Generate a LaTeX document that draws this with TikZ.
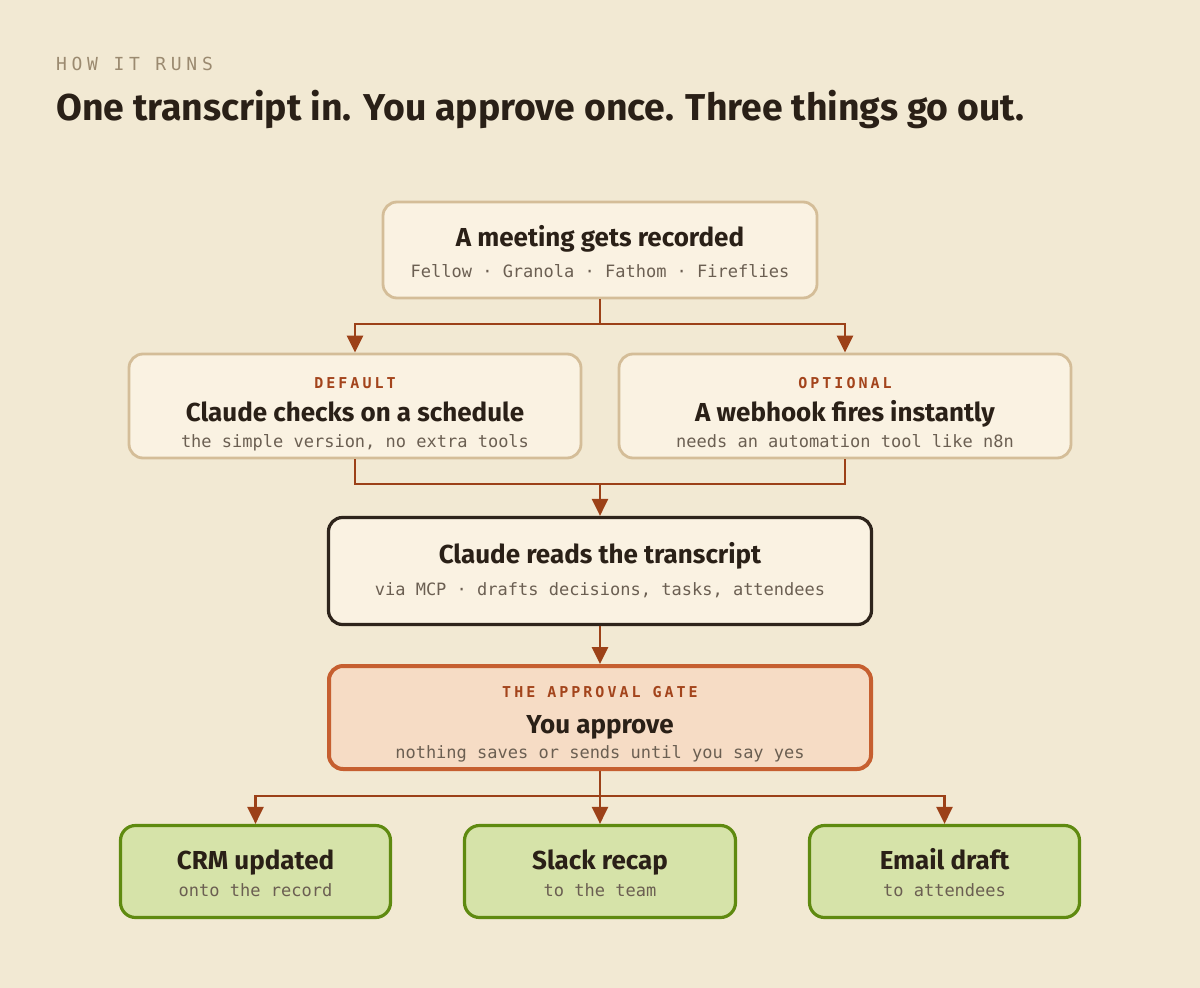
\documentclass[tikz,border=0pt]{standalone}
\usepackage{fontspec}
\setmainfont{Fira Sans}
\newfontfamily\monofont{DejaVu Sans Mono}
\newfontfamily\labelfont[LetterSpace=20]{DejaVu Sans Mono}
\newfontfamily\kickerfont[LetterSpace=26]{DejaVu Sans Mono}
\usetikzlibrary{arrows.meta}
\definecolor{bg}{HTML}{F2E9D3}
\definecolor{boxfill}{HTML}{FAF2E2}
\definecolor{tan}{HTML}{D4BD98}
\definecolor{ink}{HTML}{2A2017}
\definecolor{subink}{HTML}{6B5F52}
\definecolor{labelc}{HTML}{A3441C}
\definecolor{wire}{HTML}{9C4118}
\definecolor{darkb}{HTML}{2E241B}
\definecolor{gatefill}{HTML}{F6DCC5}
\definecolor{gateb}{HTML}{C65F30}
\definecolor{greenfill}{HTML}{D6E3A9}
\definecolor{greenb}{HTML}{5F8A10}
\definecolor{kicker}{HTML}{9B8A70}
\tikzset{
  box/.style={rectangle, rounded corners=14pt, inner sep=0pt},
  tanbox/.style={box, draw=tan, fill=boxfill, line width=2.8pt},
  darkbox/.style={box, draw=darkb, fill=boxfill, line width=3.2pt},
  gatebox/.style={box, draw=gateb, fill=gatefill, line width=4pt},
  greenbox/.style={box, draw=greenb, fill=greenfill, line width=3.2pt, rounded corners=15pt},
  ttl/.style={anchor=base, inner sep=0pt, text=ink, font=\fontsize{26}{30}\selectfont\bfseries},
  sub/.style={anchor=base, inner sep=0pt, text=subink, font=\fontsize{17}{20}\selectfont\monofont},
  lbl/.style={anchor=base, inner sep=0pt, text=labelc, font=\fontsize{15}{18}\selectfont\labelfont\bfseries},
  wireline/.style={draw=wire, line width=2.7pt},
  arr/.style={wireline, -{Triangle[width=16pt,length=17pt]}},
}
\begin{document}
\begin{tikzpicture}[x=1pt,y=-1pt]
\fill[bg] (0,0) rectangle (1200,988);
\useasboundingbox (0,0) rectangle (1200,988);

\node[anchor=base west, inner sep=0pt, text=kicker, font=\fontsize{18}{20}\selectfont\kickerfont] (kick) at (56,70) {HOW IT RUNS};
\node[anchor=base west, inner sep=0pt, text=ink, font=\fontsize{37.4}{42}\selectfont\bfseries] (head) at (56,120) {One transcript in. You approve once. Three things go out.};

% boxes
\node[tanbox, minimum width=434pt, minimum height=96pt] (top) at (600,250) {};
\node[tanbox, minimum width=452pt, minimum height=104pt] (def) at (355,406) {};
\node[tanbox, minimum width=452pt, minimum height=104pt] (opt) at (845,406) {};
\node[darkbox, minimum width=543pt, minimum height=107pt] (claude) at (600,571) {};
\node[gatebox, minimum width=542pt, minimum height=103pt] (gate) at (600,717.5) {};
\node[greenbox, minimum width=270pt, minimum height=92pt] (crm) at (255.5,871.5) {};
\node[greenbox, minimum width=271pt, minimum height=92pt] (slack) at (600,871.5) {};
\node[greenbox, minimum width=270pt, minimum height=92pt] (email) at (944.5,871.5) {};

% texts
\node[ttl] (topT) at (600,246) {A meeting gets recorded};
\node[sub] (topS) at (600,277) {Fellow · Granola · Fathom · Fireflies};

\node[lbl] (defL) at (355,388.5) {DEFAULT};
\node[ttl] (defT) at (355,421) {Claude checks on a schedule};
\node[sub] (defS) at (355,447.5) {the simple version, no extra tools};

\node[lbl] (optL) at (845,388.5) {OPTIONAL};
\node[ttl] (optT) at (845,421) {A webhook fires instantly};
\node[sub] (optS) at (845,447.5) {needs an automation tool like n8n};

\node[ttl] (clT) at (600,563) {Claude reads the transcript};
\node[sub] (clS) at (600,595.5) {via MCP · drafts decisions, tasks, attendees};

\node[lbl] (gateL) at (600,697.5) {THE APPROVAL GATE};
\node[ttl] (gateT) at (600,733) {You approve};
\node[sub] (gateS) at (600,758.5) {nothing saves or sends until you say yes};

\node[ttl] (crmT) at (255.5,869) {CRM updated};
\node[sub] (crmS) at (255.5,896.5) {onto the record};
\node[ttl] (slackT) at (600,869) {Slack recap};
\node[sub] (slackS) at (600,896.5) {to the team};
\node[ttl] (emailT) at (944.5,869) {Email draft};
\node[sub] (emailS) at (944.5,896.5) {to attendees};

% connectors
\coordinate (j1) at (600,324);
\coordinate (j2) at (600,484);
\coordinate (j3) at (600,796);
\draw[wireline] (top.south) -- (j1);
\draw[arr] (j1) -| (def.north);
\draw[arr] (j1) -| (opt.north);
\draw[wireline] (def.south) |- (j2) -| (opt.south);
\draw[arr] (j2) -- (claude.north);
\draw[arr] (claude.south) -- (gate.north);
\draw[arr] (gate.south) -- (slack.north);
\draw[arr] (j3) -| (crm.north);
\draw[arr] (j3) -| (email.north);
\end{tikzpicture}
\end{document}
